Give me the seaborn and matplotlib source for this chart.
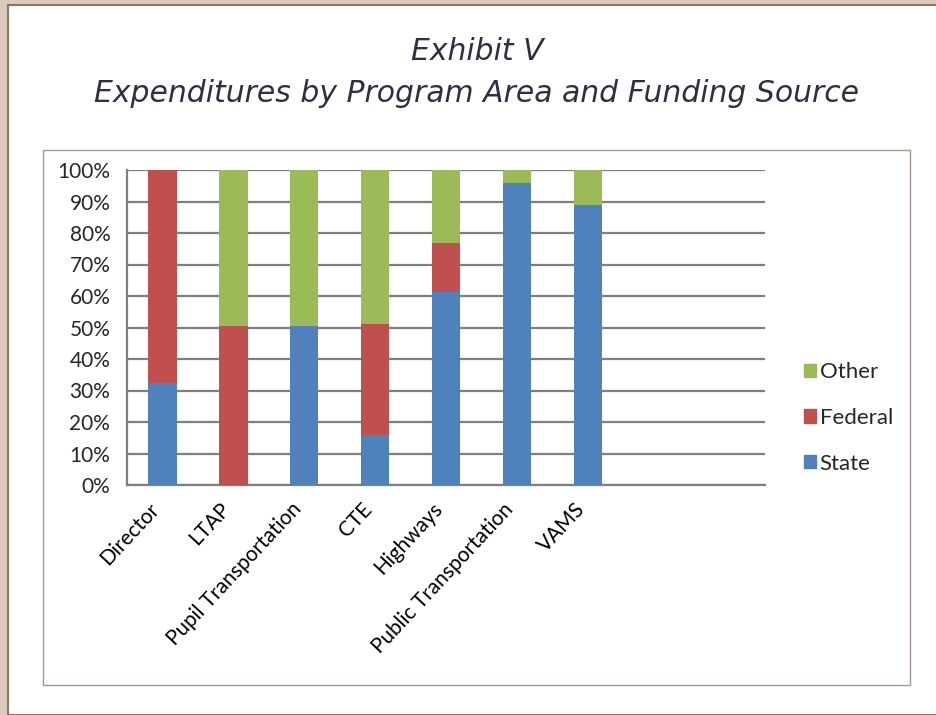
import numpy as np
import pandas as pd
import matplotlib.pyplot as plt
import matplotlib.patches as mpatches
from matplotlib.transforms import ScaledTranslation
import seaborn as sns

# data (percent of program expenditures)
programs = ["Director", "LTAP", "Pupil Transportation", "CTE", "Highways",
            "Public Transportation", "VAMS"]
state = [32.4, 0.0, 50.5, 15.9, 61.4, 95.8, 88.9]
federal = [67.6, 50.5, 0.0, 35.2, 15.3, 0.0, 0.0]
other = [0.0, 49.5, 49.5, 48.9, 23.3, 4.2, 11.1]
y_ticks = [0, 10, 20, 30, 40, 50, 60, 70, 80, 90, 100]

c_state = "#4F81BD"
c_federal = "#C0504D"
c_other = "#9BBB59"

df = pd.DataFrame({"Program": programs, "State": state, "Federal": federal, "Other": other})
df["StateTop"] = df["State"]
df["FederalTop"] = df["State"] + df["Federal"]
df["OtherTop"] = df["State"] + df["Federal"] + df["Other"]

sns.set_style("white")
plt.rcParams["font.family"] = ["Lato", "DejaVu Sans"]

fig = plt.figure(figsize=(9.36, 7.15), dpi=100)
fig.patch.set_facecolor("#dccbbd")

# white page panel and chart frame
fig.patches.append(mpatches.Rectangle((8 / 936, 0), 1, 1 - 5 / 715, transform=fig.transFigure,
                                      facecolor="white", edgecolor="#8c7362", lw=1.5, zorder=-2))
fig.patches.append(mpatches.Rectangle((43 / 936, 1 - 685 / 715), (910 - 43) / 936, (685 - 150) / 715,
                                      transform=fig.transFigure, facecolor="white",
                                      edgecolor="#a8978a", lw=1.0, zorder=-1))

ax = fig.add_axes([127 / 936, 1 - 485 / 715, (765 - 127) / 936, (485 - 170) / 715])
ax.set_zorder(2)
ax.set_facecolor("none")

# stacked bars drawn as overlapping cumulative totals
for col, c in [("OtherTop", c_other), ("FederalTop", c_federal), ("StateTop", c_state)]:
    sns.barplot(data=df, x="Program", y=col, color=c, saturation=1, width=0.4,
                linewidth=0, ax=ax, zorder=3)

ax.set_xlim(-0.5, 8.5)
ax.set_ylim(0, 100)
ax.set_yticks(y_ticks)
ax.set_yticklabels([f"{v}%" for v in y_ticks])
ax.yaxis.grid(True, color="#7f7f7f", lw=1.6, zorder=0)
ax.set_axisbelow(True)

ax.set_xticks(range(len(programs)))
ax.set_xticklabels(programs, rotation=47, ha="right", rotation_mode="anchor")
ax.set_xticks(np.arange(-0.5, 9.0, 1.0), minor=True)
ax.tick_params(axis="x", which="major", length=0, pad=10, labelsize=15, colors="black")
ax.tick_params(axis="x", which="minor", length=5, width=1.5, color="#7f7f7f", direction="out")
ax.tick_params(axis="y", length=5, width=1.5, color="#7f7f7f", direction="out", labelsize=15, pad=7)
ax.set_xlabel("")
ax.set_ylabel("")
for lab in ax.get_xticklabels():
    lab.set_transform(lab.get_transform() + ScaledTranslation(-10 / 72, 0, fig.dpi_scale_trans))

for s in ["top", "right"]:
    ax.spines[s].set_visible(False)
for s in ["left", "bottom"]:
    ax.spines[s].set_color("#7f7f7f")
    ax.spines[s].set_linewidth(1.6)

handles = [mpatches.Patch(color=c_other, label="Other"),
           mpatches.Patch(color=c_federal, label="Federal"),
           mpatches.Patch(color=c_state, label="State")]
fig.legend(handles=handles, loc="center left", bbox_to_anchor=(784 / 936, 1 - 418 / 715),
           frameon=False, fontsize=16, handlelength=0.55, handleheight=0.55,
           handletextpad=0.15, labelspacing=1.15)

fig.text(477 / 936, 1 - 51 / 715, "Exhibit V", ha="center", va="center",
         fontsize=21.5, style="italic", color="#2e2e48", family="DejaVu Sans")
fig.text(477 / 936, 1 - 93 / 715, "Expenditures by Program Area and Funding Source", ha="center",
         va="center", fontsize=21.5, style="italic", color="#2e2e48", family="DejaVu Sans")

fig.savefig("out.png", dpi=100, facecolor=fig.get_facecolor())
